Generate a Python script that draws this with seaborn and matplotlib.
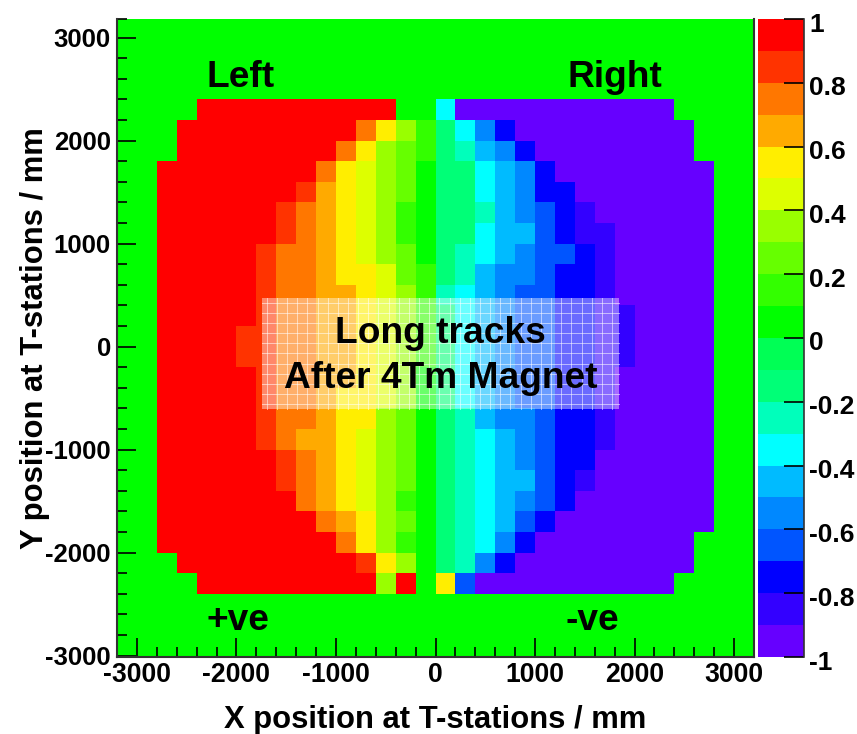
import numpy as np
import matplotlib
matplotlib.use('Agg')
import matplotlib.pyplot as plt
from matplotlib.colors import ListedColormap
from matplotlib.patches import Rectangle
from matplotlib.transforms import ScaledTranslation
import seaborn as sns

# Colour bin of each cell, in tenths: 10 is 0.9..1, 1 is 0..0.1, -1 is -0.1..0
left_half = [
    [1, 1, 10, 10, 10, 10, 10, 10, 10, 10, 10, 10, 1, 1],
    [1, 10, 10, 10, 10, 10, 10, 10, 10, 10, 8, 6, 4, 2],
    [1, 10, 10, 10, 10, 10, 10, 10, 10, 8, 6, 4, 3, 2],
    [10, 10, 10, 10, 10, 10, 10, 10, 8, 6, 5, 4, 3, 1],
    [10, 10, 10, 10, 10, 10, 10, 9, 7, 6, 5, 4, 3, 1],
    [10, 10, 10, 10, 10, 10, 9, 8, 7, 6, 5, 4, 2, 1],
    [10, 10, 10, 10, 10, 10, 9, 8, 7, 6, 5, 4, 2, 1],
    [10, 10, 10, 10, 10, 9, 8, 8, 7, 6, 5, 4, 3, 1],
    [10, 10, 10, 10, 10, 9, 8, 8, 7, 6, 6, 5, 3, 2],
    [10, 10, 10, 10, 10, 9, 8, 8, 7, 7, 6, 5, 4, 2],
    [10, 10, 10, 10, 10, 9, 8, 8, 7, 7, 6, 5, 4, 2],
    [10, 10, 10, 10, 9, 9, 8, 8, 7, 7, 6, 5, 4, 2],
    [10, 10, 10, 10, 9, 9, 8, 8, 7, 7, 6, 5, 4, 2],
    [10, 10, 10, 10, 10, 9, 8, 8, 7, 7, 6, 5, 4, 1],
    [10, 10, 10, 10, 10, 9, 8, 8, 7, 6, 6, 5, 4, 1],
    [10, 10, 10, 10, 10, 9, 8, 8, 7, 6, 6, 4, 3, 1],
    [10, 10, 10, 10, 10, 9, 8, 7, 7, 6, 5, 4, 3, 1],
    [10, 10, 10, 10, 10, 10, 9, 8, 7, 6, 5, 4, 3, 1],
    [10, 10, 10, 10, 10, 10, 9, 8, 7, 6, 5, 4, 3, 1],
    [10, 10, 10, 10, 10, 10, 10, 8, 7, 6, 5, 4, 2, 1],
    [10, 10, 10, 10, 10, 10, 10, 10, 8, 7, 6, 4, 3, 1],
    [10, 10, 10, 10, 10, 10, 10, 10, 10, 8, 6, 4, 2, 1],
    [1, 10, 10, 10, 10, 10, 10, 10, 10, 10, 9, 6, 4, 1],
    [1, 1, 10, 10, 10, 10, 10, 10, 10, 10, 10, 4, 10, 1],
]
right_half = [
    [-4, -10, -10, -10, -10, -10, -10, -10, -10, -10, -10, -10, 1, 1],
    [-2, -4, -6, -8, -10, -10, -10, -10, -10, -10, -10, -10, -10, 1],
    [-2, -3, -5, -6, -8, -10, -10, -10, -10, -10, -10, -10, -10, 1],
    [-2, -2, -4, -5, -6, -8, -10, -10, -10, -10, -10, -10, -10, -10],
    [-2, -2, -4, -5, -6, -8, -8, -10, -10, -10, -10, -10, -10, -10],
    [-2, -2, -3, -5, -6, -7, -8, -9, -10, -10, -10, -10, -10, -10],
    [-2, -2, -4, -5, -5, -7, -8, -9, -9, -10, -10, -10, -10, -10],
    [-2, -3, -4, -5, -6, -7, -7, -8, -9, -10, -10, -10, -10, -10],
    [-2, -3, -5, -6, -6, -7, -8, -8, -9, -10, -10, -10, -10, -10],
    [-3, -4, -5, -6, -7, -7, -8, -8, -9, -10, -10, -10, -10, -10],
    [-2, -4, -5, -6, -7, -7, -8, -8, -9, -9, -10, -10, -10, -10],
    [-2, -4, -5, -6, -7, -7, -8, -8, -9, -9, -10, -10, -10, -10],
    [-2, -4, -5, -6, -7, -7, -8, -8, -9, -9, -10, -10, -10, -10],
    [-2, -4, -5, -6, -7, -7, -8, -8, -9, -10, -10, -10, -10, -10],
    [-2, -4, -5, -6, -7, -7, -8, -8, -9, -10, -10, -10, -10, -10],
    [-2, -3, -5, -6, -6, -7, -8, -8, -9, -10, -10, -10, -10, -10],
    [-2, -3, -4, -5, -6, -7, -8, -8, -9, -10, -10, -10, -10, -10],
    [-2, -3, -4, -5, -6, -7, -8, -8, -10, -10, -10, -10, -10, -10],
    [-2, -3, -4, -5, -5, -7, -8, -9, -10, -10, -10, -10, -10, -10],
    [-2, -3, -4, -5, -6, -7, -8, -10, -10, -10, -10, -10, -10, -10],
    [-2, -3, -4, -5, -7, -8, -10, -10, -10, -10, -10, -10, -10, -10],
    [-2, -3, -4, -6, -8, -10, -10, -10, -10, -10, -10, -10, -10, 1],
    [-2, -3, -6, -8, -10, -10, -10, -10, -10, -10, -10, -10, -10, 1],
    [6, -7, -10, -10, -10, -10, -10, -10, -10, -10, -10, -10, 1, 1],
]

level_colors = [
    '#6600ff', '#3300ff', '#0000ff', '#0055ff', '#0088ff',
    '#00bbff', '#00ffff', '#00ffbb', '#00ff77', '#00ff55',
    '#00ff00', '#33ff00', '#66ff00', '#99ff00', '#ddff00',
    '#ffee00', '#ffaa00', '#ff7700', '#ff3300', '#ff0000',
]

x_major = [-3000, -2000, -1000, 0, 1000, 2000, 3000]
y_major = [-3000, -2000, -1000, 0, 1000, 2000, 3000]
x_minor = list(range(-3200, 3201, 200))
y_minor = list(range(-3000, 3001, 200)) + [3176]
cbar_ticks = [1, 0.8, 0.6, 0.4, 0.2, 0, -0.2, -0.4, -0.6, -0.8, -1]
cbar_labels = ['1', '0.8', '0.6', '0.4', '0.2', '0', '-0.2', '-0.4', '-0.6', '-0.8', '-1']

FIG_W, FIG_H = 857, 734
BOLD = dict(family='Liberation Sans', fontweight='bold', color='black')


def x_cell(mm):
    return (np.asarray(mm) + 3200) / 200


def y_cell(mm):
    return (3200 - np.asarray(mm)) / 200


def px_rect(left, top, right, bottom):
    return [left / FIG_W, 1 - bottom / FIG_H, (right - left) / FIG_W, (bottom - top) / FIG_H]


def build_grid():
    # Detector rows sit inside a 6400 x 6400 mm map, the rest is the zero bin
    bins = np.hstack([np.array(left_half), np.array(right_half)])
    bins = np.pad(bins, ((4, 4), (2, 2)), constant_values=1)
    return (bins - 0.5 * np.sign(bins)) / 10


def draw_label_box(ax):
    # Washed-out panel behind the text, with its fine white mesh
    x0, x1 = x_cell(-1745), x_cell(1842)
    y0, y1 = y_cell(473), y_cell(-605)
    ax.add_patch(Rectangle((x0, y0), x1 - x0, y1 - y0, facecolor='white', alpha=0.42, edgecolor='none', zorder=3))
    for x in np.arange(x0 + 0.25, x1, 0.51):
        ax.plot([x, x], [y0, y1], color='white', lw=0.7, alpha=0.55, zorder=4)
    for y in np.arange(y0 + 0.25, y1, 0.49):
        ax.plot([x0, x1], [y, y], color='white', lw=0.7, alpha=0.55, zorder=4)


def main():
    fig = plt.figure(figsize=(FIG_W / 100, FIG_H / 100), dpi=100)
    ax = fig.add_axes(px_rect(117, 19.5, 754, 657))
    cax = fig.add_axes(px_rect(757.7, 19, 804.3, 657))

    sns.heatmap(build_grid(), ax=ax, cbar_ax=cax, cmap=ListedColormap(level_colors), vmin=-1, vmax=1,
                xticklabels=False, yticklabels=False, cbar_kws={'ticks': cbar_ticks})
    ax.set_xlim(0, 32)
    ax.set_ylim(31.07, 0.12)

    # Axis ticks, ROOT style: long inward ticks on the left and bottom only
    ax.set_xticks(x_cell(x_major), [str(v) for v in x_major], fontsize=19.2, **BOLD)
    ax.set_yticks(y_cell(y_major), [str(v) for v in y_major], fontsize=18.5, rotation=0, **BOLD)
    ax.set_xticks(x_cell(x_minor), minor=True)
    ax.set_yticks(y_cell(y_minor), minor=True)
    ax.tick_params(which='major', direction='in', length=14, width=1.2, color='black')
    ax.tick_params(which='minor', direction='in', length=7, width=1.2, color='black')
    ax.tick_params(axis='x', which='major', pad=3.5)
    ax.tick_params(axis='y', which='major', pad=4.5)
    for side in ['left', 'bottom', 'right']:
        ax.spines[side].set_visible(True)
        ax.spines[side].set_color('#333333')
        ax.spines[side].set_linewidth(1.5)
    ax.spines['top'].set_visible(False)

    ax.set_xlabel('X position at T-stations / mm', fontsize=22.3, **BOLD)
    ax.set_ylabel('Y position at T-stations / mm', fontsize=22.3, **BOLD)
    ax.xaxis.set_label_coords(0.499, -0.076)
    ax.yaxis.set_label_coords(-0.105, 0.5)

    draw_label_box(ax)
    for mm_x, mm_y, label in [(-1960, 2610, 'Left'), (1800, 2610, 'Right'), (-1985, -2660, '+ve'), (1580, -2660, '-ve'),
                              (50, 130, 'Long tracks'), (50, -310, 'After 4Tm Magnet')]:
        ax.text(x_cell(mm_x), y_cell(mm_y), label, fontsize=26.7, ha='center', va='center', zorder=5, **BOLD)

    cax.set_yticks(cbar_ticks, cbar_labels, fontsize=19, **BOLD)
    cax.tick_params(direction='in', length=14.5, width=1.2, color='black', pad=3.5, right=True, left=False)
    # The bar's labels sit a little below their ticks
    nudge = ScaledTranslation(0, -3 / 100, fig.dpi_scale_trans)
    for label in cax.get_yticklabels():
        label.set_transform(label.get_transform() + nudge)
    ax.collections[0].colorbar.outline.set_visible(False)
    cax.spines['right'].set_visible(True)
    cax.spines['right'].set_color('#333333')
    cax.spines['right'].set_linewidth(1.2)

    fig.savefig('out.png', dpi=100)


if __name__ == "__main__":
    main()
